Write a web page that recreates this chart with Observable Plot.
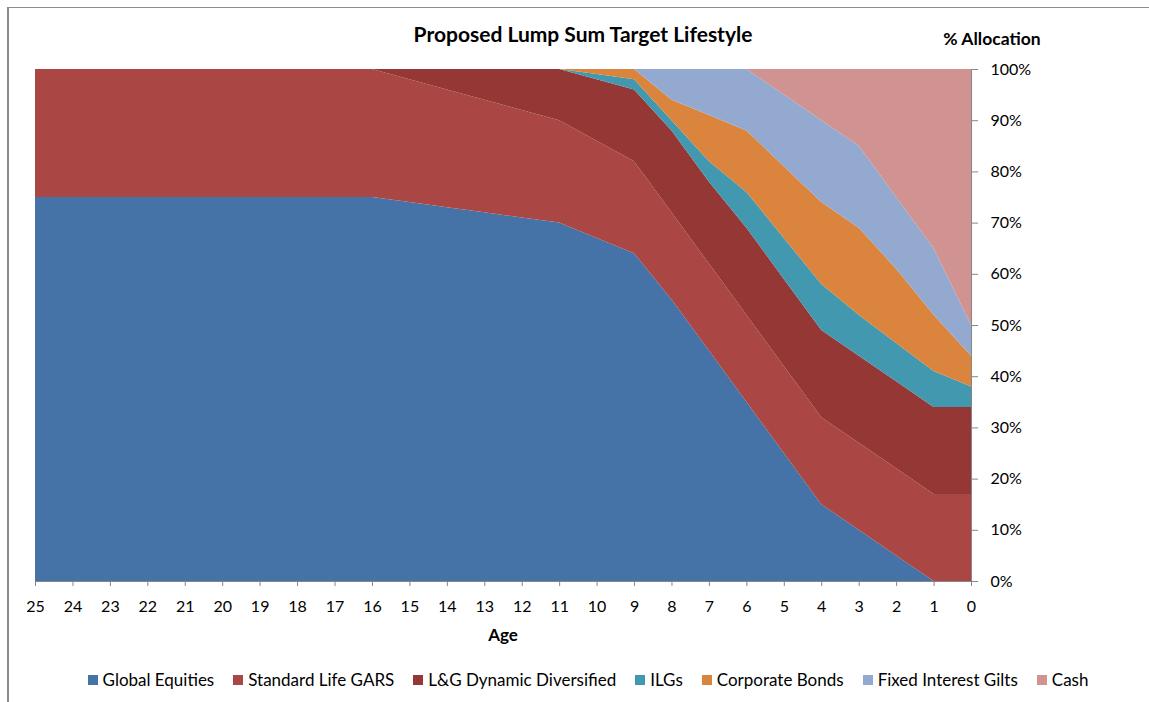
<!DOCTYPE html>
<html>
<head>
<meta charset="utf-8">
<script src="https://cdn.jsdelivr.net/npm/d3@7"></script>
<script src="https://cdn.jsdelivr.net/npm/@observablehq/plot@0.6"></script>
<style>
  body { margin: 0; background: #fff; }
  #wrap { position: relative; width: 1149px; height: 702px; overflow: hidden; font-family: Lato, "Noto Sans", sans-serif; color: #000; }
  #frameTop { position: absolute; left: 7px; top: 7px; width: 1200px; height: 1px; background: #8c8c8c; }
  #frameLeft { position: absolute; left: 7px; top: 7px; width: 2px; height: 800px; background: #8c8c8c; }
  #chart { position: absolute; left: 0; top: 0; }
  .lbl { position: absolute; font-weight: bold; white-space: nowrap; transform: translate(-50%, -50%); }
  #title { left: 583px; top: 33px; font-size: 21px; }
  #ylab { left: 992px; top: 38px; font-size: 17.5px; }
  #xlab { left: 503px; top: 634px; font-size: 17px; }
  #legend { position: absolute; left: 0; width: 1176px; top: 669px; display: flex; justify-content: center; gap: 19px; font-size: 17px; }
  .item { display: flex; align-items: center; gap: 5px; white-space: nowrap; }
  .sw { width: 10px; height: 10px; display: inline-block; }
  svg g[aria-label$="tick"] { stroke: #868686; }
</style>
</head>
<body>
<div id="wrap">
  <div id="frameTop"></div>
  <div id="frameLeft"></div>
  <div id="chart"></div>
  <div class="lbl" id="title">Proposed Lump Sum Target Lifestyle</div>
  <div class="lbl" id="ylab">% Allocation</div>
  <div class="lbl" id="xlab">Age</div>
  <div id="legend"></div>
</div>
<script>
// ---- data ----
const ages = [25,24,23,22,21,20,19,18,17,16,15,14,13,12,11,10,9,8,7,6,5,4,3,2,1,0];
const seriesNames = ["Global Equities","Standard Life GARS","L&G Dynamic Diversified","ILGs","Corporate Bonds","Fixed Interest Gilts","Cash"];
const seriesColors = ["#4572A7","#AA4643","#953735","#4198AF","#DB843D","#93A9CF","#D19392"];
const globalEquities     = [75,75,75,75,75,75,75,75,75,75,74,73,72,71,70,67,64,55,45,35,25,15,10,5,0,0];
const standardLifeGARS   = [25,25,25,25,25,25,25,25,25,25,24,23,22,21,20,19,18,17,17,17,17,17,17,17,17,17];
const lgDynamic          = [0,0,0,0,0,0,0,0,0,0,2,4,6,8,10,12,14,16,16,17,17,17,17,17,17,17];
const ilgs               = [0,0,0,0,0,0,0,0,0,0,0,0,0,0,0,1,2,2,4,7,8,9,8,7.5,7,4];
const corporateBonds     = [0,0,0,0,0,0,0,0,0,0,0,0,0,0,0,1,2,4,9,12,14,16,17,14.5,11,6];
const fixedInterestGilts = [0,0,0,0,0,0,0,0,0,0,0,0,0,0,0,0,0,6,9,12,14,16,16,14,13,6];
const cash               = [0,0,0,0,0,0,0,0,0,0,0,0,0,0,0,0,0,0,0,0,5,10,15,25,35,50];
const yTicks = [0,10,20,30,40,50,60,70,80,90,100];

const seriesValues = [globalEquities, standardLifeGARS, lgDynamic, ilgs, corporateBonds, fixedInterestGilts, cash];
const rows = [];
seriesNames.forEach((name, i) => {
  ages.forEach((age, j) => rows.push({age, series: name, value: seriesValues[i][j]}));
});

const chart = Plot.plot({
  width: 1149,
  height: 650,
  marginTop: 69,
  marginBottom: 69,
  marginLeft: 35,
  marginRight: 178,
  style: {fontFamily: 'Lato, "Noto Sans", sans-serif', fontSize: "16px", color: "#000", background: "transparent"},
  x: {domain: [25, 0], label: null},
  y: {domain: [0, 100], label: null},
  color: {domain: seriesNames, range: seriesColors},
  marks: [
    Plot.areaY(rows, {x: "age", y: "value", fill: "series", order: seriesNames}),
    Plot.ruleY([0], {stroke: "#868686"}),
    Plot.ruleX([0], {stroke: "#868686"}),
    Plot.axisX({ticks: ages, tickSize: 5, tickPadding: 14, tickFormat: d => String(d), label: null, fontSize: 16}),
    Plot.axisY({anchor: "right", ticks: yTicks, tickSize: 6, tickPadding: 13, tickFormat: d => d + "%", label: null, fontSize: 16})
  ]
});
document.getElementById("chart").appendChild(chart);

const legend = document.getElementById("legend");
seriesNames.forEach((name, i) => {
  const it = document.createElement("div");
  it.className = "item";
  const sw = document.createElement("span");
  sw.className = "sw";
  sw.style.background = seriesColors[i];
  const tx = document.createElement("span");
  tx.textContent = name;
  it.appendChild(sw);
  it.appendChild(tx);
  legend.appendChild(it);
});
</script>
</body>
</html>
